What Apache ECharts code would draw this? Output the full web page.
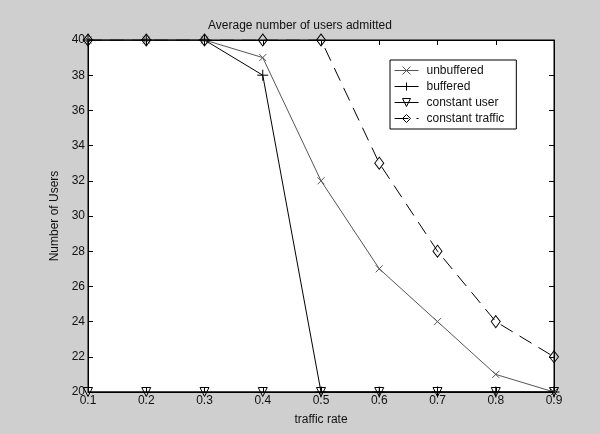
<!DOCTYPE html>
<html>
<head>
<meta charset="utf-8">
<script src="https://cdn.jsdelivr.net/npm/echarts@6/dist/echarts.min.js"></script>
<style>
  html, body { margin: 0; padding: 0; background: #cfcfcf; }
  #chart { width: 600px; height: 434px; }
</style>
</head>
<body>
<div id="chart"></div>
<script>
const rates = ['0.1', '0.2', '0.3', '0.4', '0.5', '0.6', '0.7', '0.8', '0.9'];
const unbuffered = [40, 40, 40, 39, 32, 27, 24, 21, 20];
const buffered = [40, 40, 40, 38, 20, 20, 20, 20, 20];
const constantUser = [20, 20, 20, 20, 20, 20, 20, 20, 20];
const constantTraffic = [40, 40, 40, 40, 40, 33, 28, 24, 22];

const crossSym = 'path://M0,0L10,10M10,0L0,10';
const plusSym = 'path://M5,0L5,10M0,5L10,5';
const font = 'Liberation Sans, Arial, sans-serif';

const chart = echarts.init(document.getElementById('chart'));

function line(name, data, symbol, color, extra) {
    return Object.assign({
        name: name,
        type: 'line',
        data: data,
        symbol: symbol,
        symbolSize: 8,
        showAllSymbol: true,
        lineStyle: { color: color, width: 1 },
        itemStyle: { color: 'none', borderColor: color, borderWidth: 1 },
        animation: false
    }, extra || {});
}

chart.setOption({
    backgroundColor: '#cfcfcf',
    textStyle: { fontFamily: font },
    title: {
        text: 'Average number of users admitted',
        left: 'center',
        top: 15,
        textStyle: { fontSize: 12, fontWeight: 'normal', color: '#111', fontFamily: font }
    },
    legend: {
        orient: 'vertical',
        left: 390,
        top: 60,
        backgroundColor: '#fff',
        borderColor: '#000',
        borderWidth: 1,
        borderRadius: 0,
        padding: [4, 12, 4, 4],
        itemGap: 3,
        itemWidth: 24,
        itemHeight: 10,
        lineStyle: { width: 1 },
        itemStyle: { borderWidth: 1 },
        textStyle: { fontSize: 12, color: '#111', fontFamily: font, padding: [0, 0, 0, 3] },
        data: ['unbuffered', 'buffered', 'constant user', 'constant traffic']
    },
    grid: { left: 88, right: 46, top: 40, bottom: 42, show: true, backgroundColor: '#fff', borderColor: '#000', borderWidth: 1 },
    xAxis: [{
        type: 'category',
        data: rates,
        boundaryGap: false,
        name: 'traffic rate',
        nameLocation: 'middle',
        nameGap: 22,
        nameTextStyle: { fontSize: 12, color: '#111' },
        axisLine: { lineStyle: { color: '#000' } },
        axisTick: { inside: true, length: 5, lineStyle: { color: '#000' } },
        axisLabel: { fontSize: 12, color: '#111', margin: 3 },
        splitLine: { show: false }
    }, {
        type: 'category',
        data: rates,
        boundaryGap: false,
        position: 'top',
        axisLine: { lineStyle: { color: '#000' } },
        axisTick: { inside: true, length: 5, lineStyle: { color: '#000' } },
        axisLabel: { show: false }
    }],
    yAxis: [{
        type: 'value',
        min: 20,
        max: 40,
        interval: 2,
        name: 'Number of Users',
        nameLocation: 'middle',
        nameGap: 22,
        nameTextStyle: { fontSize: 12, color: '#111' },
        axisLine: { show: true, lineStyle: { color: '#000' } },
        axisTick: { show: true, inside: true, length: 5, lineStyle: { color: '#000' } },
        axisLabel: { fontSize: 12, color: '#111', margin: 3 },
        splitLine: { show: false }
    }, {
        type: 'value',
        min: 20,
        max: 40,
        interval: 2,
        position: 'right',
        axisLine: { show: true, lineStyle: { color: '#000' } },
        axisTick: { show: true, inside: true, length: 5, lineStyle: { color: '#000' } },
        axisLabel: { show: false },
        splitLine: { show: false }
    }],
    series: [
        line('unbuffered', unbuffered, crossSym, '#555', { symbolSize: 7 }),
        line('buffered', buffered, plusSym, '#000', { symbolSize: 11 }),
        line('constant user', constantUser, 'triangle', '#000', { symbolRotate: 180, symbolSize: 9 }),
        line('constant traffic', constantTraffic, 'diamond', '#000', {
            symbolSize: [9, 12],
            lineStyle: { color: '#000', width: 1, type: [14, 8] }
        })
    ]
});
</script>
</body>
</html>
